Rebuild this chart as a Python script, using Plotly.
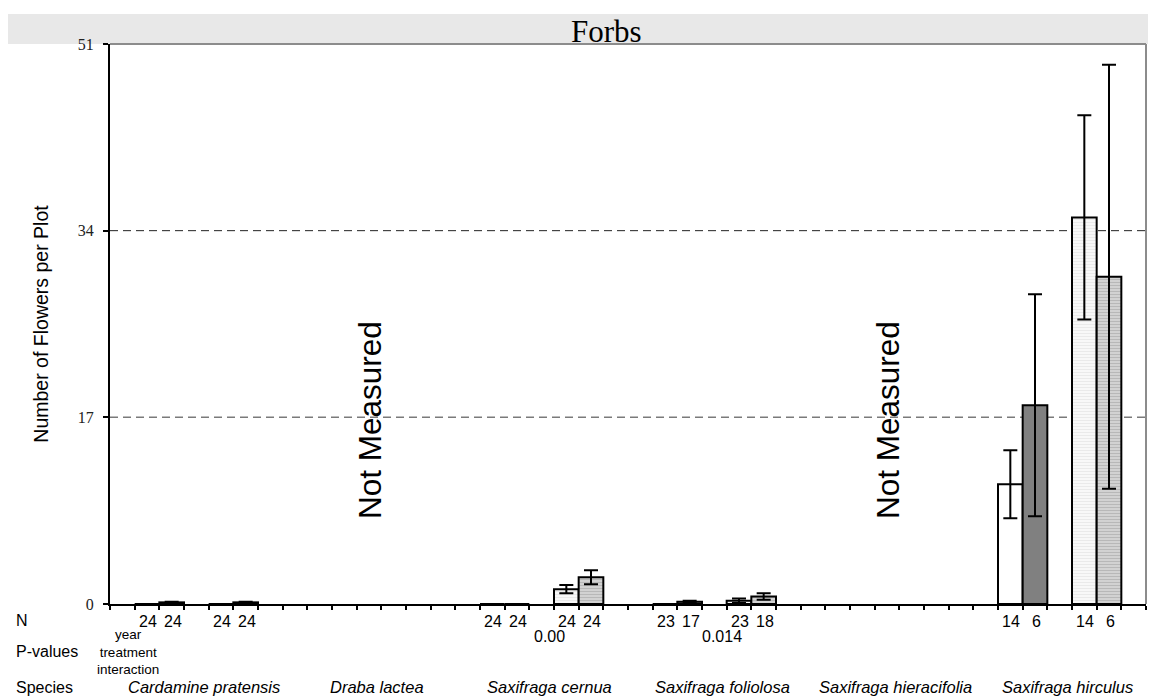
import plotly.graph_objects as go

# ---- data -------------------------------------------------------------
species = [
    "Cardamine pratensis",
    "Draba lactea",
    "Saxifraga cernua",
    "Saxifraga foliolosa",
    "Saxifraga hieracifolia",
    "Saxifraga hirculus",
]
not_measured = [False, True, False, False, True, False]

# mean number of flowers per plot for the four treatment series
mean_a = [0.0, None, 0.0, 0.0, None, 10.9]
mean_b = [0.15, None, 0.0, 0.2, None, 18.1]
mean_c = [0.0, None, 1.35, 0.3, None, 35.2]
mean_d = [0.15, None, 2.43, 0.68, None, 29.8]

# standard errors
err_a = [None, None, None, None, None, 3.1]
err_b = [0.06, None, None, 0.1, None, 10.1]
err_c = [None, None, 0.38, 0.2, None, 9.3]
err_d = [0.06, None, 0.64, 0.3, None, 19.3]

# sample sizes
n_a = [24, None, 24, 23, None, 14]
n_b = [24, None, 24, 17, None, 6]
n_c = [24, None, 24, 23, None, 14]
n_d = [24, None, 24, 18, None, 6]

p_values = ["", "", "0.00", "0.014", "", ""]
p_legend = ["year", "treatment", "interaction"]

y_ticks = [0, 17, 34, 51]
y_max = 51

# ---- layout geometry --------------------------------------------------
W, H = 1149, 696
ML, MR, MT, MB = 110, 3, 44, 92
PW, PH = W - ML - MR, H - MT - MB
SLOTS = 7  # slots per species group: gap, bar, bar, gap, bar, bar, gap
n_slots = SLOTS * len(species)

SANS = "Liberation Sans, Arial"
SERIF = "Liberation Serif, Times New Roman, serif"


def px_x(px):
    return (px - ML) / PW


def px_y(py):
    return (H - MB - py) / PH


series = [
    dict(mean=mean_a, err=err_a, n=n_a, slot=1, color="#ffffff", pattern=None),
    dict(mean=mean_b, err=err_b, n=n_b, slot=2, color="#808080", pattern=None),
    dict(mean=mean_c, err=err_c, n=n_c, slot=4, color="#f6f6f6",
         pattern=dict(shape="-", fgcolor="#dcdcdc", bgcolor="#f8f8f8", size=3, solidity=0.35)),
    dict(mean=mean_d, err=err_d, n=n_d, slot=5, color="#c8c8c8",
         pattern=dict(shape="-", fgcolor="#9a9a9a", bgcolor="#d6d6d6", size=3, solidity=0.45)),
]

fig = go.Figure()
annotations = []

for s in series:
    xs = [SLOTS * i + s["slot"] + 0.5 for i in range(len(species))]
    marker = dict(color=s["color"], line=dict(color="black", width=2))
    if s["pattern"]:
        marker["pattern"] = s["pattern"]
    fig.add_trace(go.Bar(
        x=xs, y=s["mean"], width=1.0, marker=marker,
        error_y=dict(type="data", array=s["err"], visible=True,
                     color="black", thickness=2, width=7),
        showlegend=False, hoverinfo="skip",
    ))
    for x, n in zip(xs, s["n"]):
        if n is not None:
            annotations.append(dict(
                x=x, xref="x", y=0, yref="paper", yshift=-17, xshift=1,
                text=str(n), showarrow=False, xanchor="center", yanchor="middle",
                font=dict(family=SANS, size=16, color="black"),
            ))

# group-level rows: p-values, species names, "Not Measured"
for i, name in enumerate(species):
    cx = SLOTS * i + SLOTS / 2
    annotations.append(dict(
        x=cx, xref="x", y=px_y(687), yref="paper", xshift=8,
        text=f"<i>{name}</i>", showarrow=False, xanchor="center", yanchor="middle",
        font=dict(family=SANS, size=16.5, color="black"),
    ))
    if p_values[i]:
        annotations.append(dict(
            x=cx, xref="x", y=px_y(636), yref="paper", xshift=8,
            text=p_values[i], showarrow=False, xanchor="center", yanchor="middle",
            font=dict(family=SANS, size=16, color="black"),
        ))
    if not_measured[i]:
        annotations.append(dict(
            x=cx, xref="x", y=px_y(420), yref="paper", xshift=1,
            text="Not Measured", textangle=-90, showarrow=False,
            xanchor="center", yanchor="middle",
            font=dict(family=SANS, size=31.5, color="black"),
        ))

# key for the p-value rows
annotations.append(dict(
    x=px_x(128), xref="paper", y=px_y(652), yref="paper",
    text="<br>".join(p_legend), showarrow=False, xanchor="center", yanchor="middle",
    align="center",
    font=dict(family=SANS, size=13.5, color="black"),
))

# row labels on the left
for label, py in [("N", 621), ("P-values", 651), ("Species", 687)]:
    annotations.append(dict(
        x=px_x(14), xref="paper", y=px_y(py), yref="paper",
        text=label, showarrow=False, xanchor="left", yanchor="middle",
        font=dict(family=SANS, size=16, color="black"),
    ))

# panel title
annotations.append(dict(
    x=px_x(606), xref="paper", y=px_y(31), yref="paper",
    text="Forbs", showarrow=False, xanchor="center", yanchor="middle",
    font=dict(family=SERIF, size=31, color="black"),
))

shapes = [
    # title band
    dict(type="rect", xref="paper", yref="paper",
         x0=px_x(8), x1=px_x(1148), y0=px_y(44), y1=px_y(14),
         fillcolor="#e8e8e8", line=dict(width=0), layer="below"),
    # top and right frame
    dict(type="line", xref="paper", yref="paper", x0=0, x1=1, y0=1, y1=1,
         line=dict(color="#8c8c8c", width=2)),
    dict(type="line", xref="paper", yref="paper", x0=1, x1=1, y0=0, y1=1,
         line=dict(color="#8c8c8c", width=2)),
    # dashed reference lines
    dict(type="line", xref="paper", yref="y", x0=0, x1=1, y0=y_ticks[2], y1=y_ticks[2],
         line=dict(color="#222222", width=1, dash="8px,5px"), layer="below"),
    dict(type="line", xref="paper", yref="y", x0=0, x1=1, y0=y_ticks[1], y1=y_ticks[1],
         line=dict(color="#7a7a7a", width=1.5, dash="8px,5px"), layer="below"),
]

fig.update_layout(
    width=W, height=H,
    margin=dict(l=ML, r=MR, t=MT, b=MB, pad=0),
    paper_bgcolor="white", plot_bgcolor="white",
    barmode="overlay",
    annotations=annotations,
    shapes=shapes,
    xaxis=dict(
        range=[0, n_slots], tickvals=list(range(n_slots + 1)),
        showticklabels=False, ticks="outside", ticklen=4, tickwidth=2,
        tickcolor="black", showline=True, linecolor="black", linewidth=2,
        showgrid=False, zeroline=False, fixedrange=True,
    ),
    yaxis=dict(
        range=[0, y_max], tickvals=y_ticks, ticktext=[str(t) for t in y_ticks],
        ticks="outside", ticklen=5, tickwidth=2, tickcolor="black",
        showline=True, linecolor="black", linewidth=2,
        showgrid=False, zeroline=False, ticklabelstandoff=6,
        tickfont=dict(family=SERIF, size=16, color="#222222"),
        title=dict(text="Number of Flowers per Plot", standoff=24,
                   font=dict(family=SANS, size=19.5, color="black")),
        fixedrange=True,
    ),
)

fig.write_html("out.html")
